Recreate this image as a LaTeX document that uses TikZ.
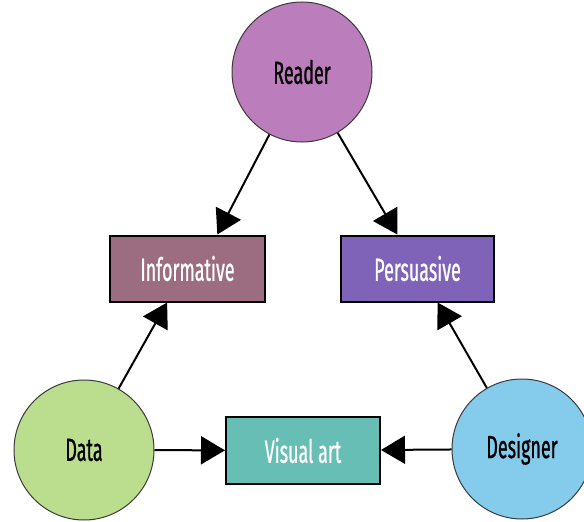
\documentclass[tikz,border=0pt]{standalone}
\usepackage{fontspec}
\newfontfamily\lblfont[FakeStretch=0.56,FakeBold=0.7]{Fira Sans}
\usetikzlibrary{arrows.meta,calc}
\definecolor{readerc}{HTML}{BC7DBC}
\definecolor{infoc}{HTML}{9C6D80}
\definecolor{persc}{HTML}{7F63B8}
\definecolor{datac}{HTML}{BBDD8E}
\definecolor{visc}{HTML}{66BEB4}
\definecolor{desc}{HTML}{84CBEC}
\definecolor{edgec}{HTML}{3A3A3A}
\begin{document}
\begin{tikzpicture}[x=1pt,y=-1pt,
  circ/.style={circle,draw=edgec,line width=1pt,minimum size=140pt,inner sep=0pt,font=\lblfont\fontsize{32}{34}\selectfont,text=black},
  boxn/.style={rectangle,draw=black,line width=2pt,inner sep=0pt,font=\lblfont\fontsize{32}{34}\selectfont,text=white},
  arr/.style={line width=2pt,-{Triangle[length=24pt,width=28pt]}}]
\useasboundingbox (0,0) rectangle (584,522);
\node[circ,fill=readerc] (reader) at (302,72) {Reader};
\node[circ,fill=datac] (data) at (84,450) {Data};
\node[circ,fill=desc] (designer) at (522,449) {Designer};
\node[boxn,fill=infoc,minimum width=155pt,minimum height=66pt] (info) at (187.5,268.5) {Informative};
\node[boxn,fill=persc,minimum width=153pt,minimum height=66pt] (pers) at (417.5,268.5) {Persuasive};
\node[boxn,fill=visc,minimum width=154pt,minimum height=67pt] (vis) at (303,450.5) {Visual art};
\draw[arr] (reader) -- ($(info.north west)!0.69!(info.north east)$);
\draw[arr] (reader) -- ($(pers.north west)!0.37!(pers.north east)$);
\draw[arr] (data) -- ($(info.south west)!0.37!(info.south east)$);
\draw[arr] (designer) -- ($(pers.south west)!0.63!(pers.south east)$);
\draw[arr] (data) -- (vis);
\draw[arr] (designer) -- (vis);
\end{tikzpicture}
\end{document}
